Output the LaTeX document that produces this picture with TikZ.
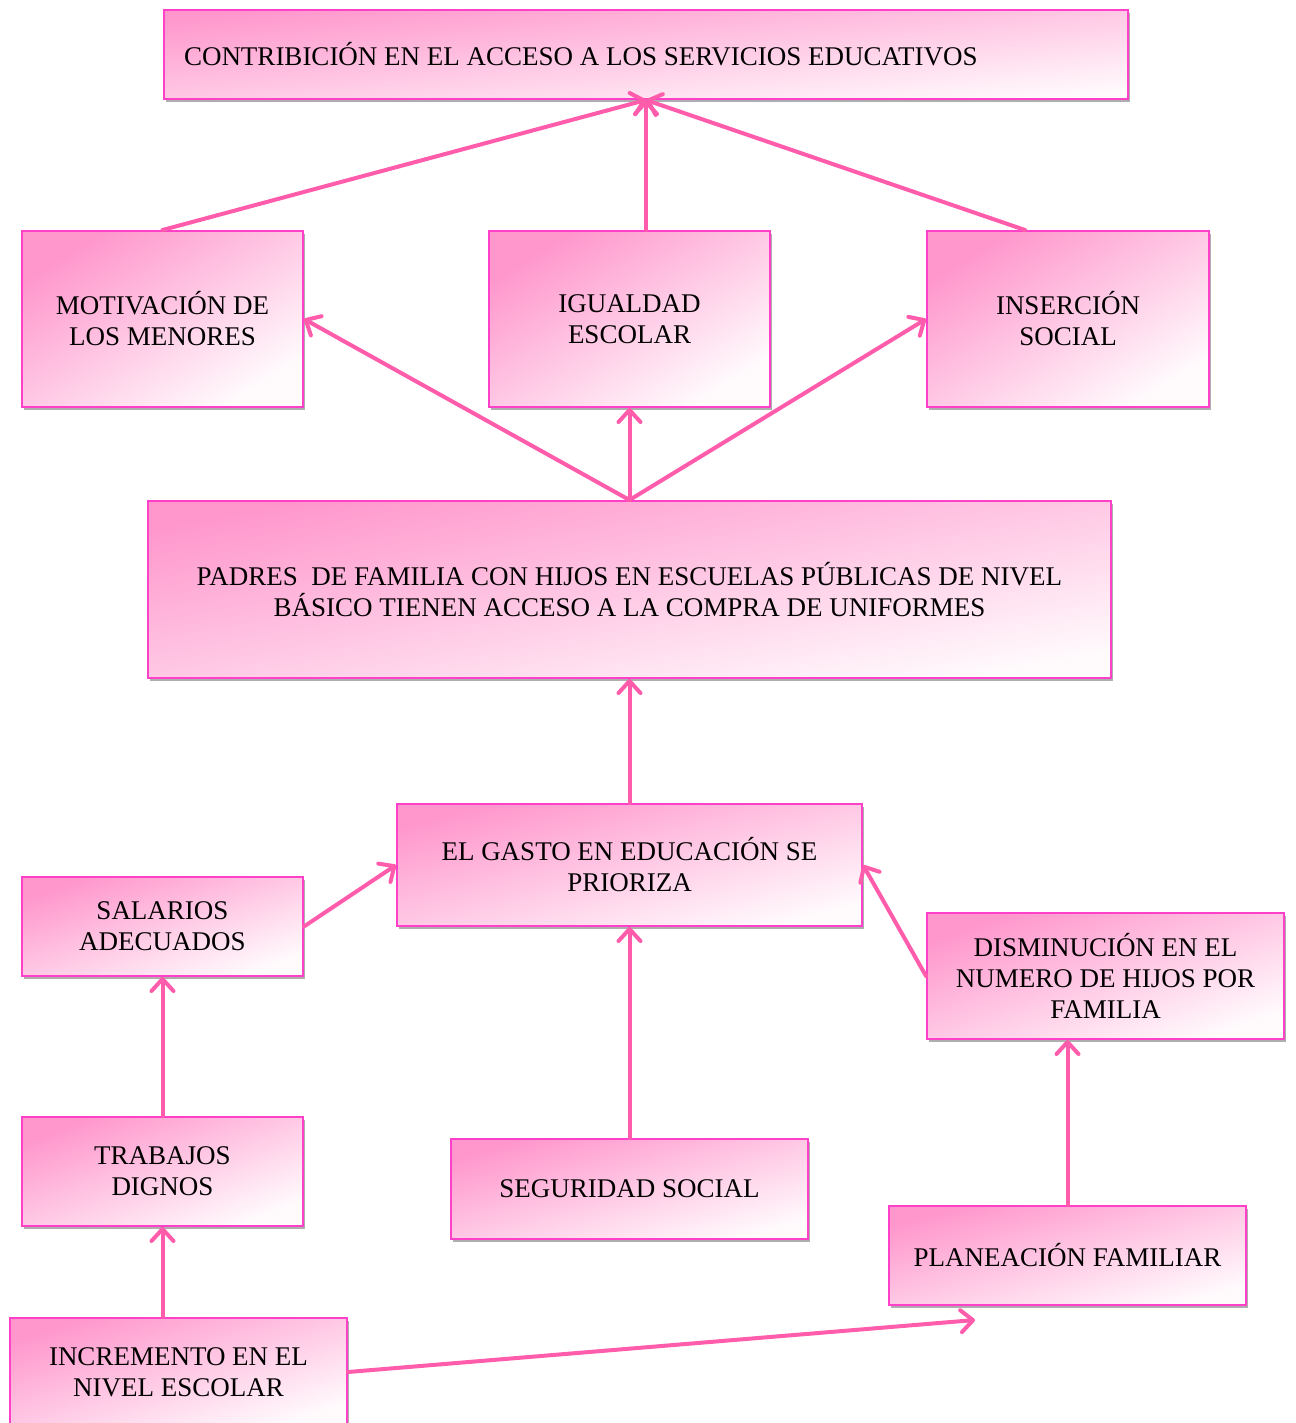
\documentclass[tikz,border=0pt]{standalone}
\usepackage{fontspec}
\setmainfont{Liberation Serif}
\usetikzlibrary{arrows.meta,shadows}

\definecolor{boxpink}{RGB}{255,150,204}
\definecolor{boxline}{RGB}{255,64,200}
\definecolor{arrowpink}{RGB}{255,92,172}

\begin{document}
\begin{tikzpicture}[x=0.5pt, y=-0.5pt,
	every node/.style={rectangle, draw=boxline, line width=1pt, align=center,
		font=\fontsize{13.5}{15.5}\selectfont, inner sep=2pt,
		top color=boxpink, bottom color=white!96!boxpink,
		drop shadow={shadow xshift=1pt, shadow yshift=-1.5pt, opacity=.45, fill=black!70}},
	pbox/.style 2 args={minimum width=#1pt, minimum height=#2pt, shading angle={atan(#2/#1)}},
	link/.style={draw=arrowpink, line width=2pt, line cap=round,
		-{Straight Barb[length=6pt,width=11pt,line cap=round,line join=round]}}]
	\useasboundingbox (0,0) rectangle (1295,1423);
	\tikzset{minimum height=1pt}
	\node[pbox={482}{44.5}, text width=462pt, align=flush left] (top) at (646,54.5)
		{CONTRIBICIÓN EN EL ACCESO A LOS SERVICIOS EDUCATIVOS};
	\node[pbox={140.5}{88}] (motiv) at (162.5,319) {MOTIVACIÓN DE\\LOS MENORES};
	\node[pbox={140.5}{88}] (igual) at (629.5,319) {IGUALDAD\\ESCOLAR};
	\node[pbox={141}{88}] (inser) at (1068,319) {INSERCIÓN\\SOCIAL};
	\node[pbox={481.5}{88.5}] (padres) at (629.5,589.5)
		{PADRES\ \ DE FAMILIA CON HIJOS EN ESCUELAS PÚBLICAS DE NIVEL\\BÁSICO TIENEN ACCESO A LA COMPRA DE UNIFORMES};
	\node[pbox={232.5}{61}] (gasto) at (629.5,865) {EL GASTO EN EDUCACIÓN SE\\PRIORIZA};
	\node[pbox={140.5}{49.5}] (salar) at (162.5,926.5) {SALARIOS\\ADECUADOS};
	\node[pbox={178.5}{63}] (dismi) at (1105.5,976)
		{DISMINUCIÓN EN EL\\NUMERO DE HIJOS POR\\FAMILIA};
	\node[pbox={140.5}{54.5}] (trab) at (162.5,1171.5) {TRABAJOS\\DIGNOS};
	\node[pbox={178.5}{50}] (segur) at (629.5,1189) {SEGURIDAD SOCIAL};
	\node[pbox={178.5}{49.5}] (plan) at (1067.5,1255.5) {PLANEACIÓN FAMILIAR};
	\node[pbox={168.5}{54}] (incr) at (178.5,1372) {INCREMENTO EN EL\\NIVEL ESCOLAR};
	\coordinate (pfend) at (975,1320);
	\foreach \from/\to in {motiv.north/top.south,
		padres.north/motiv.east, padres.north/igual.south, padres.north/inser.west,
		gasto.north/padres.south, salar.east/gasto.west, dismi.west/gasto.east,
		segur.north/gasto.south, trab.north/salar.south, incr.east/pfend}
	\draw[link] (\from) -- (\to);
	\draw[link] ([xshift=-21.5pt]inser.north) -- (top.south);
	\draw[link] (igual.north -| top.south) -- (top.south);
	\draw[link] (trab.south |- incr.north) -- (trab.south);
	\draw[link] (plan.north) -- (plan.north |- dismi.south);
\end{tikzpicture}
\end{document}
